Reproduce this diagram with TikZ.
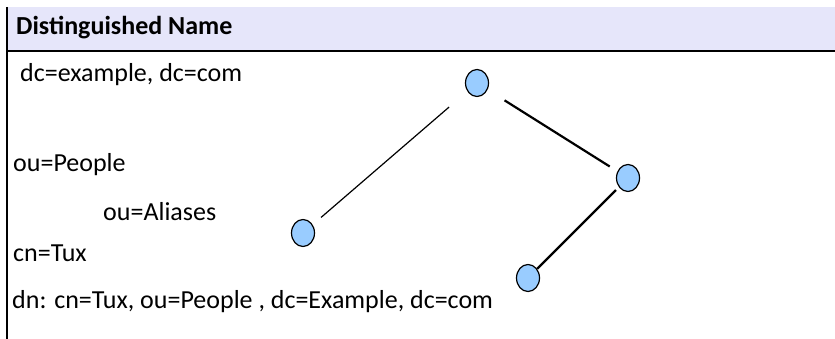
\documentclass[tikz,border=0pt]{standalone}
\usepackage{fontspec}
\setmainfont{Carlito}
\usepackage{tikz}
\usepackage{xcolor}
\usetikzlibrary{shapes.geometric}
\definecolor{headbg}{RGB}{230,230,250}
\definecolor{nodeblue}{RGB}{153,204,255}
\tikzset{
	dnnode/.style   = {shape=ellipse, draw, line width=1.2pt, fill=nodeblue,
		minimum width=23pt, minimum height=27pt, inner sep=0pt},
	rdn/.style      = {anchor=base west, inner sep=0pt, font=\fontsize{26}{30}\selectfont},
	header/.style   = {rdn, font=\fontsize{26}{30}\selectfont\bfseries},
	thinedge/.style = {draw, line width=1.2pt},
	thickedge/.style= {draw, line width=2.2pt}
}
\begin{document}
\begin{tikzpicture}[x=1pt,y=-1pt]
\useasboundingbox (0,0) rectangle (835,339);
% header band
\fill[headbg] (7,7) rectangle (835,51);
\draw[line width=1.6pt] (7,7) -- (7,339);
\draw[line width=1.6pt] (7,51) -- (835,51);
\node[header] (title) at (16,35) {Distinguished Name};
% rdn lines
\node[rdn] (dcline) at (20,82) {dc=example, dc=com};
\node[rdn] (peopleline) at (13,172) {ou=People};
\node[rdn] (aliasline) at (103,221) {ou=Aliases};
\node[rdn] (tuxline) at (13,261) {cn=Tux};
\node[rdn] (dnline) at (12,308) {dn: cn=Tux, ou=People , dc=Example, dc=com};
% tree
\node[dnnode] (nodedc) at (477,83) {};
\node[dnnode] (nodepeople) at (628,178) {};
\node[dnnode] (nodealiases) at (303,233) {};
\node[dnnode] (nodetux) at (528,278) {};
\draw[thinedge, shorten <=24pt, shorten >=11pt] (nodedc) -- (nodealiases);
\draw[thickedge, shorten <=20pt, shorten >=9pt] (nodedc) -- (nodepeople);
\draw[thickedge, shorten <=4pt] (nodepeople) -- (nodetux);
\end{tikzpicture}
\end{document}
